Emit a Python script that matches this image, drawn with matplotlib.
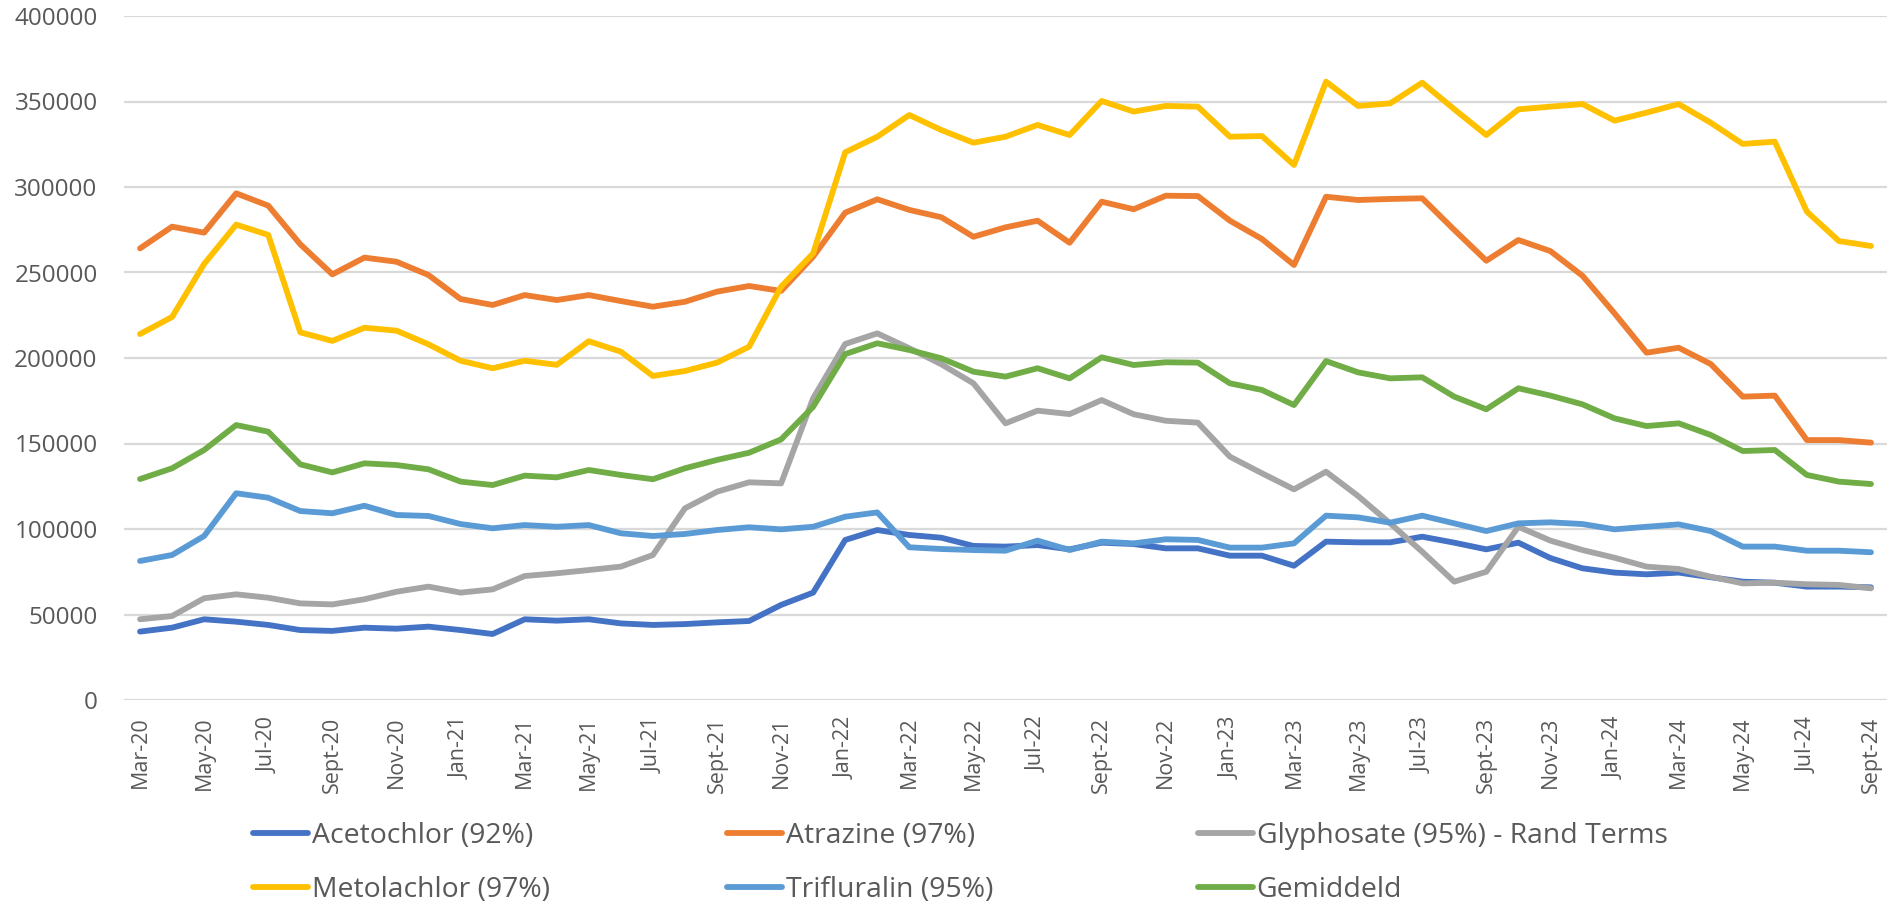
import matplotlib
matplotlib.use("Agg")
import matplotlib.pyplot as plt
import numpy as np

plt.rcParams["font.family"] = ["Open Sans", "DejaVu Sans"]

TEXT = "#595959"
GRID = "#D9D9D9"

months = [
    "Mar-20", "Apr-20", "May-20", "Jun-20", "Jul-20", "Aug-20", "Sept-20", "Oct-20", "Nov-20", "Dec-20",
    "Jan-21", "Feb-21", "Mar-21", "Apr-21", "May-21", "Jun-21", "Jul-21", "Aug-21", "Sept-21", "Oct-21",
    "Nov-21", "Dec-21", "Jan-22", "Feb-22", "Mar-22", "Apr-22", "May-22", "Jun-22", "Jul-22", "Aug-22",
    "Sept-22", "Oct-22", "Nov-22", "Dec-22", "Jan-23", "Feb-23", "Mar-23", "Apr-23", "May-23", "Jun-23",
    "Jul-23", "Aug-23", "Sept-23", "Oct-23", "Nov-23", "Dec-23", "Jan-24", "Feb-24", "Mar-24", "Apr-24",
    "May-24", "Jun-24", "Jul-24", "Aug-24", "Sept-24",
]

acetochlor = [
    40000, 42300, 47200, 45800, 43900, 40900, 40400, 42300, 41700, 42900,
    40900, 38600, 47200, 46400, 47200, 44800, 43900, 44400, 45400, 46200,
    55600, 62800, 93600, 99400, 96500, 94900, 90100, 89700, 90600, 88100,
    92000, 91200, 88700, 88700, 84400, 84400, 78500, 92600, 92200, 92200,
    95500, 92000, 88100, 92000, 83000, 77000, 74500, 73500, 74500, 71800,
    69200, 68600, 66300, 66300, 65900,
]
atrazine = [
    264100, 276800, 273300, 296300, 289100, 266500, 248900, 258700, 256300, 248500,
    234500, 231000, 236800, 233900, 236800, 233300, 230000, 232900, 238800, 242100,
    239200, 259300, 285000, 292800, 286600, 282300, 270900, 276400, 280300, 267400,
    291400, 287000, 294900, 294700, 280300, 269600, 254400, 294300, 292400, 293000,
    293400, 274900, 256900, 269000, 262500, 248100, 226100, 203100, 206000, 196500,
    177400, 178000, 152000, 152000, 150500,
]
glyphosate = [
    47200, 49100, 59500, 61800, 59800, 56500, 55900, 58900, 63300, 66300,
    62800, 64700, 72500, 74100, 76000, 78000, 84800, 112100, 121800, 127300,
    126700, 176500, 208200, 214400, 205700, 196300, 185200, 161800, 169200, 167200,
    175400, 167100, 163300, 162200, 142300, 132600, 123200, 133500, 119300, 103300,
    86700, 69200, 75000, 101300, 93200, 87700, 83200, 78000, 76600, 72100,
    68200, 68600, 67700, 67300, 65300,
]
metolachlor = [
    214000, 224000, 255000, 278000, 272000, 215000, 210000, 217700, 216000, 208000,
    198400, 194000, 198400, 196000, 209800, 203700, 189500, 192400, 197300, 206600,
    241700, 261200, 320300, 329400, 342100, 333300, 325900, 329400, 336300, 330400,
    350300, 344100, 347400, 347000, 329400, 329800, 312900, 361600, 347400, 348900,
    361000, 345500, 330400, 345400, 347000, 348500, 338800, 343500, 348500, 337600,
    325200, 326500, 285600, 268400, 265500,
]
trifluralin = [
    81300, 84800, 95900, 120900, 118300, 110500, 109200, 113600, 108200, 107600,
    102900, 100400, 102300, 101300, 102300, 97500, 95900, 97100, 99400, 101000,
    99800, 101300, 107200, 109700, 89300, 88300, 87700, 87300, 93200, 87700,
    92600, 91600, 94000, 93600, 89100, 89100, 91600, 107800, 106800, 103700,
    107800, 103300, 98800, 103300, 103900, 102900, 99800, 101300, 102700, 98800,
    89700, 89700, 87300, 87300, 86400,
]
gemiddeld = [
    129200, 135500, 146200, 160800, 156900, 137800, 133100, 138400, 137400, 134900,
    127700, 125700, 131200, 130200, 134500, 131600, 129100, 135500, 140400, 144600,
    152400, 171500, 202300, 208600, 204700, 199800, 192000, 189100, 194000, 188100,
    200400, 195900, 197500, 197300, 185200, 181300, 172500, 198200, 191600, 188100,
    188700, 177400, 170000, 182300, 178000, 172900, 164700, 160200, 161800, 155000,
    145600, 146200, 131600, 127700, 126300,
]

series = [
    ("Acetochlor (92%)", acetochlor, "#4472C4"),
    ("Atrazine (97%)", atrazine, "#ED7D31"),
    ("Glyphosate (95%) - Rand Terms", glyphosate, "#A5A5A5"),
    ("Metolachlor (97%)", metolachlor, "#FFC000"),
    ("Trifluralin (95%)", trifluralin, "#5B9BD5"),
    ("Gemiddeld", gemiddeld, "#70AD47"),
]

W, H = 1891, 907
fig = plt.figure(figsize=(W / 100, H / 100), dpi=100)
ax = fig.add_axes([124 / W, 1 - 700 / H, (1887 - 124) / W, (700 - 16) / H])

x = np.arange(len(months))
handles = []
for label, values, color in series:
    (ln,) = ax.plot(x, values, color=color, lw=4.2, label=label,
                    solid_capstyle="round", solid_joinstyle="round")
    handles.append(ln)

ax.set_xlim(-0.5, len(months) - 0.5)
ax.set_ylim(0, 400000)
ax.set_yticks(range(0, 400001, 50000))
ax.set_yticklabels([str(v) for v in range(0, 400001, 50000)])
ax.set_xticks(x[::2])
ax.set_xticklabels(months[::2], rotation=90, va="top", ha="center")
ax.grid(axis="y", color=GRID, lw=1.6)
ax.set_axisbelow(True)
for s in ["top", "right", "left", "bottom"]:
    ax.spines[s].set_visible(False)
ax.tick_params(axis="both", length=0, colors=TEXT)
ax.tick_params(axis="y", labelsize=17.5, pad=19)
ax.tick_params(axis="x", labelsize=15.5, pad=12)

# legend: three fixed-width columns like Excel
col_x = [253, 727, 1198]
for c in range(3):
    hs = [handles[c], handles[c + 3]]
    leg = fig.legend(hs, [h.get_label() for h in hs], loc="upper left",
                     bbox_to_anchor=(col_x[c] / W, 1 - 822 / H),
                     frameon=False, fontsize=20.4, borderpad=0, borderaxespad=0,
                     handlelength=1.95, handletextpad=0.12, labelspacing=0.92)
    for t in leg.get_texts():
        t.set_color(TEXT)
    for lh in leg.get_lines():
        lh.set_linewidth(4.2)

fig.savefig("out.png", dpi=100)
